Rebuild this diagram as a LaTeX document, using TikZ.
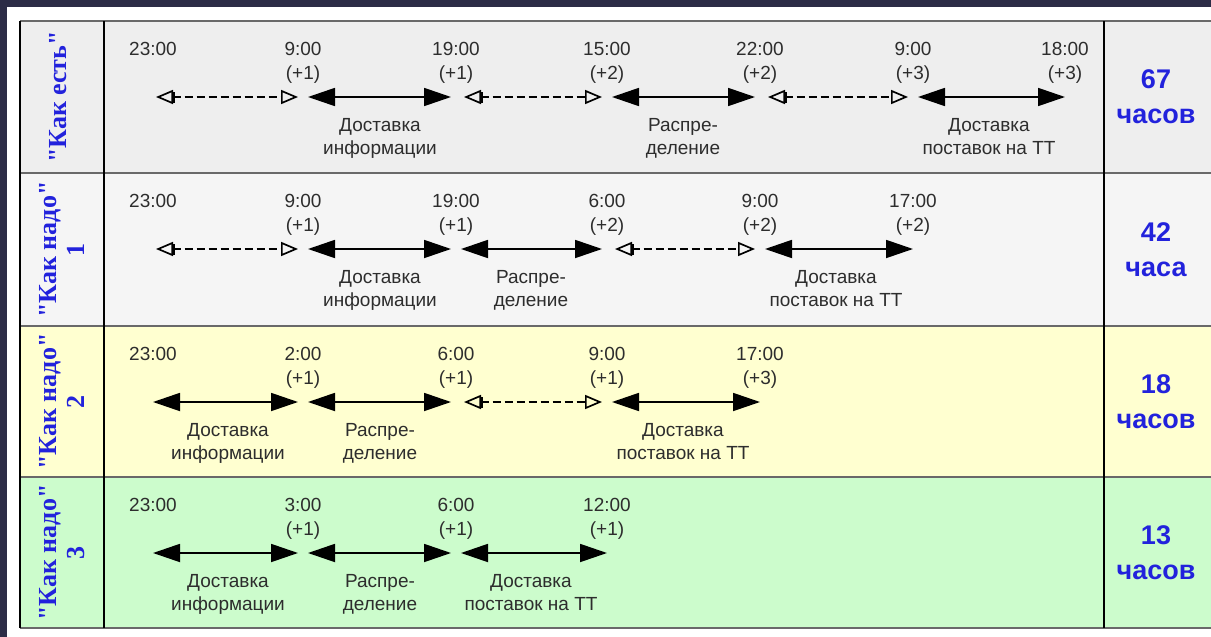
\documentclass[tikz,border=0pt]{standalone}
\usepackage{fontspec}
\setmainfont{Liberation Sans}
\newfontfamily\tnr{Liberation Serif}
\usetikzlibrary{arrows.meta}
\definecolor{frame}{RGB}{44,44,70}
\definecolor{rowA}{RGB}{238,238,238}
\definecolor{rowB}{RGB}{245,245,245}
\definecolor{rowC}{RGB}{255,255,208}
\definecolor{rowD}{RGB}{204,252,204}
\definecolor{labblue}{RGB}{34,34,220}
\definecolor{txt}{RGB}{45,45,45}
\definecolor{rulegray}{RGB}{105,105,105}
\tikzset{
  timelbl/.style={align=center, anchor=base, font=\fontsize{19}{24}\selectfont, text=txt, inner sep=0pt},
  seglbl/.style={align=center, anchor=base, font=\fontsize{19}{23}\selectfont, text=txt, inner sep=0pt},
  rowlbl/.style={rotate=90, align=center, font=\tnr\bfseries\fontsize{26}{28}\selectfont, text=labblue, inner sep=0pt},
  totlbl/.style={align=center, font=\bfseries\fontsize{27}{35}\selectfont, text=labblue, inner sep=0pt},
  solidseg/.style={line width=1.8pt, draw=black, {Triangle[length=27pt,width=18pt]}-{Triangle[length=27pt,width=18pt]}},
  dashseg/.style={line width=1.7pt, draw=black, dash pattern=on 8pt off 4pt,
    {Triangle[open,length=17pt,width=14pt,sep=3pt]Bar[width=11pt]}-{Triangle[open,length=17pt,width=14pt]}},
  gapL/.style={shorten <=5pt},
  gapR/.style={shorten >=5pt},
  hrule/.style={line width=2.5pt, draw=rulegray},
  vrule/.style={line width=1.5pt, draw=black},
}
\begin{document}
\begin{tikzpicture}[x=1pt,y=-1pt]
\useasboundingbox (0,0) rectangle (1211,637);
\fill[frame] (0,0) rectangle (1211,637);
\fill[white] (7,7) rectangle (1211,637);
% row backgrounds
\fill[rowA] (20,21) rectangle (1211,173);
\fill[rowB] (20,173) rectangle (1211,326);
\fill[rowC] (20,326) rectangle (1211,477);
\fill[rowD] (20,477) rectangle (1211,628);
% rules
\foreach \yy in {21,173,326,477,628} \draw[hrule] (20,\yy) -- (1211,\yy);
\foreach \xx in {20,104,1104} \draw[vrule] (\xx,21) -- (\xx,628);

% left labels
\node[rowlbl] (l1) at (58,97) {"Как есть"};
\node[rowlbl] (l2) at (62,249.5) {"Как надо"\\1};
\node[rowlbl] (l3) at (62,401.5) {"Как надо"\\2};
\node[rowlbl] (l4) at (62,552.5) {"Как надо"\\3};
% right totals
\node[totlbl] (s1) at (1156,97) {67\\часов};
\node[totlbl] (s2) at (1156,249.5) {42\\часа};
\node[totlbl] (s3) at (1156,401.5) {18\\часов};
\node[totlbl] (s4) at (1156,552.5) {13\\часов};

% ---------- row 1 ----------
\foreach \n/\xx in {0/153,1/303,2/456,3/607,4/760,5/913,6/1065} \coordinate (a\n) at (\xx,97);
\node[timelbl] (ta0) at (153,55) {23:00};
\node[timelbl] (ta1) at (303,79) {9:00\\(+1)};
\node[timelbl] (ta2) at (456,79) {19:00\\(+1)};
\node[timelbl] (ta3) at (607,79) {15:00\\(+2)};
\node[timelbl] (ta4) at (760,79) {22:00\\(+2)};
\node[timelbl] (ta5) at (913,79) {9:00\\(+3)};
\node[timelbl] (ta6) at (1065,79) {18:00\\(+3)};
\draw[dashseg,gapR] (a0) -- (a1);
\draw[solidseg,gapL,gapR] (a1) -- (a2);
\draw[dashseg,gapL,gapR] (a2) -- (a3);
\draw[solidseg,gapL,gapR] (a3) -- (a4);
\draw[dashseg,gapL,gapR] (a4) -- (a5);
\draw[solidseg,gapL] (a5) -- (a6);
\node[seglbl] (sa1) at (380,154) {Доставка\\информации};
\node[seglbl] (sa2) at (683,154) {Распре-\\деление};
\node[seglbl] (sa3) at (989,154) {Доставка\\поставок на ТТ};

% ---------- row 2 ----------
\foreach \n/\xx in {0/153,1/303,2/456,3/607,4/760,5/913} \coordinate (b\n) at (\xx,249);
\node[timelbl] (tb0) at (153,207) {23:00};
\node[timelbl] (tb1) at (303,231) {9:00\\(+1)};
\node[timelbl] (tb2) at (456,231) {19:00\\(+1)};
\node[timelbl] (tb3) at (607,231) {6:00\\(+2)};
\node[timelbl] (tb4) at (760,231) {9:00\\(+2)};
\node[timelbl] (tb5) at (913,231) {17:00\\(+2)};
\draw[dashseg,gapR] (b0) -- (b1);
\draw[solidseg,gapL,gapR] (b1) -- (b2);
\draw[solidseg,gapL,gapR] (b2) -- (b3);
\draw[dashseg,gapL,gapR] (b3) -- (b4);
\draw[solidseg,gapL] (b4) -- (b5);
\node[seglbl] (sb1) at (380,306) {Доставка\\информации};
\node[seglbl] (sb2) at (531,306) {Распре-\\деление};
\node[seglbl] (sb3) at (836,306) {Доставка\\поставок на ТТ};

% ---------- row 3 ----------
\foreach \n/\xx in {0/153,1/303,2/456,3/607,4/760} \coordinate (c\n) at (\xx,402);
\node[timelbl] (tc0) at (153,360) {23:00};
\node[timelbl] (tc1) at (303,384) {2:00\\(+1)};
\node[timelbl] (tc2) at (456,384) {6:00\\(+1)};
\node[timelbl] (tc3) at (607,384) {9:00\\(+1)};
\node[timelbl] (tc4) at (760,384) {17:00\\(+3)};
\draw[solidseg,gapR] (c0) -- (c1);
\draw[solidseg,gapL,gapR] (c1) -- (c2);
\draw[dashseg,gapL,gapR] (c2) -- (c3);
\draw[solidseg,gapL] (c3) -- (c4);
\node[seglbl] (sc1) at (228,459) {Доставка\\информации};
\node[seglbl] (sc2) at (380,459) {Распре-\\деление};
\node[seglbl] (sc3) at (683,459) {Доставка\\поставок на ТТ};

% ---------- row 4 ----------
\foreach \n/\xx in {0/153,1/303,2/456,3/607} \coordinate (d\n) at (\xx,553);
\node[timelbl] (td0) at (153,511) {23:00};
\node[timelbl] (td1) at (303,535) {3:00\\(+1)};
\node[timelbl] (td2) at (456,535) {6:00\\(+1)};
\node[timelbl] (td3) at (607,535) {12:00\\(+1)};
\draw[solidseg,gapR] (d0) -- (d1);
\draw[solidseg,gapL,gapR] (d1) -- (d2);
\draw[solidseg,gapL] (d2) -- (d3);
\node[seglbl] (sd1) at (228,610) {Доставка\\информации};
\node[seglbl] (sd2) at (380,610) {Распре-\\деление};
\node[seglbl] (sd3) at (531,610) {Доставка\\поставок на ТТ};
\end{tikzpicture}
\end{document}
